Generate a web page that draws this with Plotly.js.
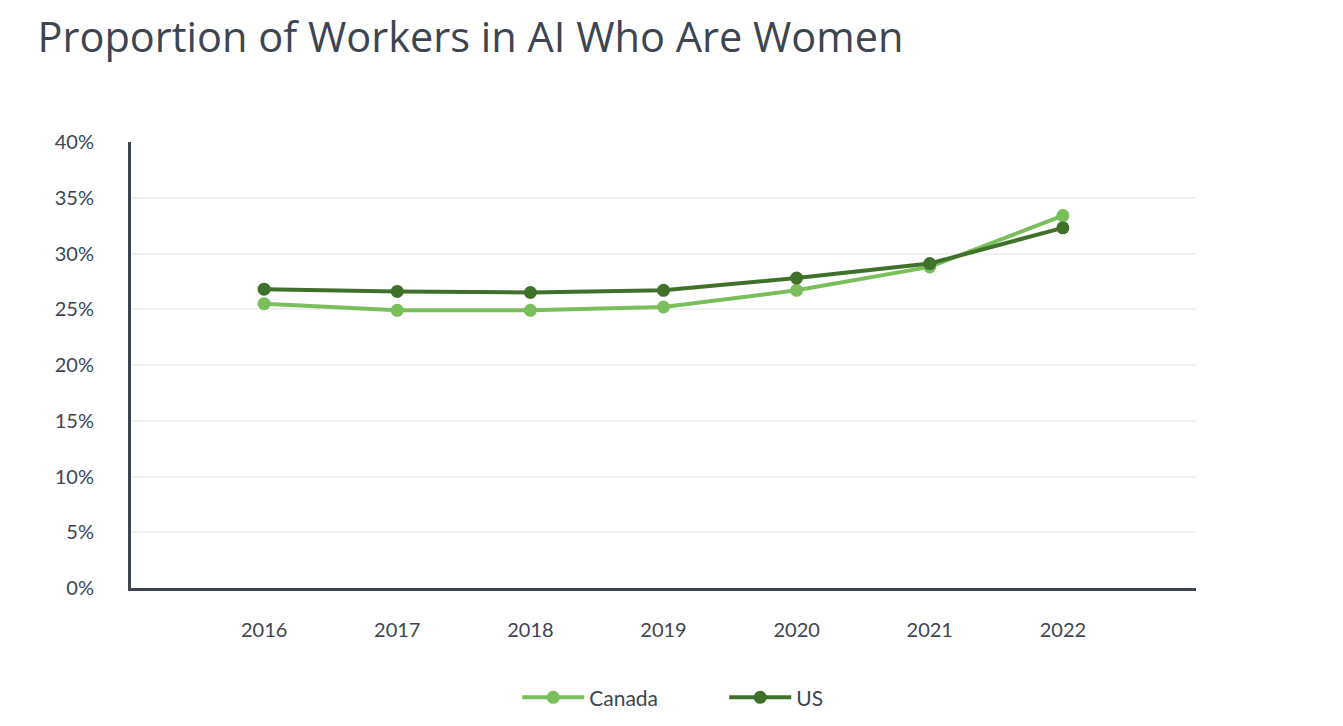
<!DOCTYPE html>
<html>
<head>
<meta charset="utf-8">
<script src="https://cdn.plot.ly/plotly-3.0.1.min.js"></script>
<style>html,body{margin:0;padding:0;background:#fff;}#chart{width:1343px;height:726px;}</style>
</head>
<body>
<div id="chart"></div>
<script>
const years = [2016, 2017, 2018, 2019, 2020, 2021, 2022];
const canada = [25.5, 24.9, 24.9, 25.2, 26.7, 28.8, 33.4];
const us = [26.8, 26.6, 26.5, 26.7, 27.8, 29.1, 32.3];
const yTicks = [0, 5, 10, 15, 20, 25, 30, 35, 40];
const yTickText = yTicks.map(v => v + '%');

const textColor = '#3d4550';
const font = 'Lato, "Open Sans", sans-serif';

const traces = [
  {x: years, y: canada, name: 'Canada', type: 'scatter', mode: 'lines+markers',
   line: {color: '#7abf5c', width: 4}, marker: {color: '#7abf5c', size: 13}},
  {x: years, y: us, name: 'US', type: 'scatter', mode: 'lines+markers',
   line: {color: '#3f712b', width: 4}, marker: {color: '#3f712b', size: 13}}
];

const layout = {
  width: 1343, height: 726,
  paper_bgcolor: '#fff', plot_bgcolor: '#fff',
  margin: {l: 131, r: 147, t: 142, b: 138},
  title: {text: 'Proportion of Workers in AI Who Are Women', x: 0.028, xanchor: 'left', y: 0.948, yanchor: 'middle',
          font: {family: '"Open Sans", sans-serif', size: 41.5, weight: 500, color: textColor}},
  xaxis: {range: [2015, 2023], tickvals: years, ticktext: years.map(String),
          showgrid: false, zeroline: false, showline: true, linecolor: textColor, linewidth: 3,
          ticks: '', ticklabelstandoff: 22, tickfont: {family: font, size: 20, color: textColor}, fixedrange: true},
  yaxis: {range: [0, 40], tickvals: yTicks, ticktext: yTickText,
          showgrid: true, gridcolor: '#f0f0f0', gridwidth: 2, zeroline: false,
          showline: true, linecolor: textColor, linewidth: 3, ticks: '', ticklabelstandoff: 30,
          tickfont: {family: font, size: 20, color: textColor}, fixedrange: true},
  legend: {orientation: 'h', x: 0.557, xanchor: 'center', yref: 'container', y: 0.039, yanchor: 'middle',
           font: {family: font, size: 21, color: textColor}, itemwidth: 62, entrywidth: 130, entrywidthmode: 'pixels'},
  showlegend: true
};

Plotly.newPlot('chart', traces, layout, {displayModeBar: false, staticPlot: true});
</script>
</body>
</html>
